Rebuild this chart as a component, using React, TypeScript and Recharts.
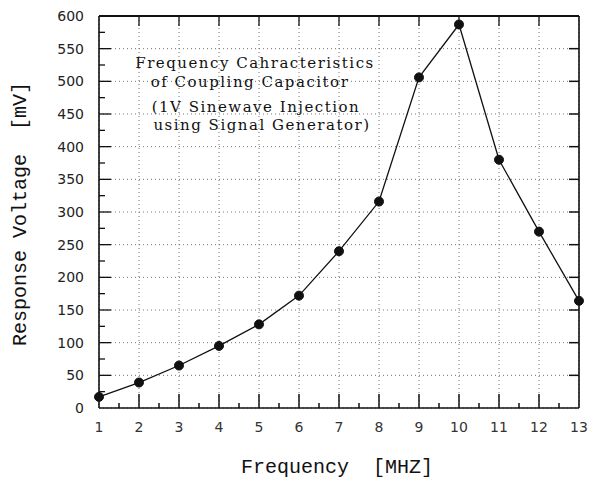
import { LineChart, Line, XAxis, YAxis, CartesianGrid, Customized } from 'recharts';

const freqs = [1, 2, 3, 4, 5, 6, 7, 8, 9, 10, 11, 12, 13];
const voltages = [17, 39, 65, 95, 128, 172, 240, 316, 506, 587, 380, 270, 164];

const xTicks = [1, 1.5, 2, 2.5, 3, 3.5, 4, 4.5, 5, 5.5, 6, 6.5, 7, 7.5, 8, 8.5, 9, 9.5, 10, 10.5, 11, 11.5, 12, 12.5, 13];
const xMajorTicks = [1, 2, 3, 4, 5, 6, 7, 8, 9, 10, 11, 12, 13];
const yTicks = [0, 25, 50, 75, 100, 125, 150, 175, 200, 225, 250, 275, 300, 325, 350, 375, 400, 425, 450, 475, 500, 525, 550, 575, 600];
const yMajorTicks = [0, 50, 100, 150, 200, 250, 300, 350, 400, 450, 500, 550, 600];

const titleLines = [
  'Frequency Cahracteristics',
  'of Coupling Capacitor',
  '(1V Sinewave Injection',
  'using Signal Generator)',
];

const data = freqs.map((f, i) => ({ f, v: voltages[i] }));

const tickFont = { fontFamily: '"DejaVu Sans", sans-serif', fontSize: 14, fill: '#222' };
const labelFont = { fontFamily: '"Liberation Mono", monospace', fontSize: 20, fill: '#111' };

function LeftTick({ x, y, payload }: any) {
  const v = payload.value;
  const major = v % 50 === 0;
  const len = major ? (v > 0 && v < 600 ? 12 : 0) : 6;
  return (
    <g>
      {len > 0 && <line x1={x} x2={x + len} y1={y} y2={y} stroke="#111" strokeWidth={1.3} />}
      {major && (
        <text x={x - 15} y={y} dy="0.36em" textAnchor="end" {...tickFont}>
          {v}
        </text>
      )}
    </g>
  );
}

function BottomTick({ x, y, payload }: any) {
  const v = payload.value;
  const major = Number.isInteger(v);
  const len = major ? (v > 1 && v < 13 ? 14 : 0) : 5;
  return (
    <g>
      {len > 0 && <line x1={x} x2={x} y1={y} y2={y - len} stroke="#111" strokeWidth={1.5} />}
      {major && (
        <text x={x} y={y + 24} textAnchor="middle" {...tickFont} fill="#333">
          {v}
        </text>
      )}
    </g>
  );
}

function RightTick({ x, y, payload }: any) {
  const v = payload.value;
  if (v <= 0 || v >= 600) return <g />;
  return <line x1={x} x2={x - 10} y1={y} y2={y} stroke="#111" strokeWidth={1.5} />;
}

function TopTick({ x, y, payload }: any) {
  const v = payload.value;
  if (v <= 1 || v >= 13) return <g />;
  return <line x1={x} x2={x} y1={y} y2={y + 10} stroke="#111" strokeWidth={1.3} />;
}

function Annotations() {
  const titleX = [255, 250, 256, 262];
  const titleY = [68, 87, 112, 130];
  return (
    <g>
      {titleLines.map((t, i) => (
        <text
          key={t}
          x={titleX[i]}
          y={titleY[i]}
          textAnchor="middle"
          fontFamily='"DejaVu Serif", serif'
          fontSize={15}
          letterSpacing={1.5}
          fill="#111"
        >
          {t}
        </text>
      ))}
      <text x={26} y={214} transform="rotate(-90, 26, 214)" textAnchor="middle" {...labelFont} xmlSpace="preserve">
        {'Response Voltage  [mV]'}
      </text>
      <text x={337} y={473} textAnchor="middle" {...labelFont} xmlSpace="preserve">
        {'Frequency  [MHZ]'}
      </text>
    </g>
  );
}

export default function App() {
  return (
    <div style={{ position: 'absolute', left: 0, top: 0, width: 592, height: 483, background: '#fff' }}>
      <LineChart width={592} height={483} data={data} margin={{ top: 15, right: 12, bottom: 0, left: 0 }}>
        <CartesianGrid
          xAxisId="bottom"
          yAxisId="left"
          verticalValues={xMajorTicks}
          horizontalValues={yMajorTicks}
          stroke="#666"
          strokeDasharray="1 3"
          strokeWidth={0.9}
        />
        <XAxis
          xAxisId="bottom"
          dataKey="f"
          type="number"
          domain={[1, 13]}
          ticks={xTicks}
          interval={0}
          height={75}
          tickSize={0}
          tickMargin={0}
          tickLine={false}
          axisLine={{ stroke: '#111', strokeWidth: 1.6 }}
          tick={<BottomTick />}
        />
        <XAxis
          xAxisId="top"
          orientation="top"
          dataKey="f"
          type="number"
          domain={[1, 13]}
          ticks={xMajorTicks}
          interval={0}
          height={1}
          tickSize={0}
          tickMargin={0}
          tickLine={false}
          axisLine={{ stroke: '#111', strokeWidth: 2 }}
          tick={<TopTick />}
        />
        <YAxis
          yAxisId="left"
          type="number"
          domain={[0, 600]}
          ticks={yTicks}
          interval={0}
          width={99}
          tickSize={0}
          tickMargin={0}
          tickLine={false}
          axisLine={{ stroke: '#111', strokeWidth: 1.6 }}
          tick={<LeftTick />}
        />
        <YAxis
          yAxisId="right"
          orientation="right"
          type="number"
          domain={[0, 600]}
          ticks={yMajorTicks}
          interval={0}
          width={1}
          tickSize={0}
          tickMargin={0}
          tickLine={false}
          axisLine={{ stroke: '#111', strokeWidth: 1.6 }}
          tick={<RightTick />}
        />
        <Line
          xAxisId="top"
          yAxisId="right"
          type="linear"
          dataKey="v"
          stroke="none"
          dot={false}
          activeDot={false}
          legendType="none"
          isAnimationActive={false}
        />
        <Line
          xAxisId="bottom"
          yAxisId="left"
          type="linear"
          dataKey="v"
          stroke="#111"
          strokeWidth={1.3}
          dot={{ r: 4.5, fill: '#111', stroke: '#111', strokeWidth: 1 }}
          activeDot={false}
          isAnimationActive={false}
        />
        <Customized component={Annotations} />
      </LineChart>
    </div>
  );
}
